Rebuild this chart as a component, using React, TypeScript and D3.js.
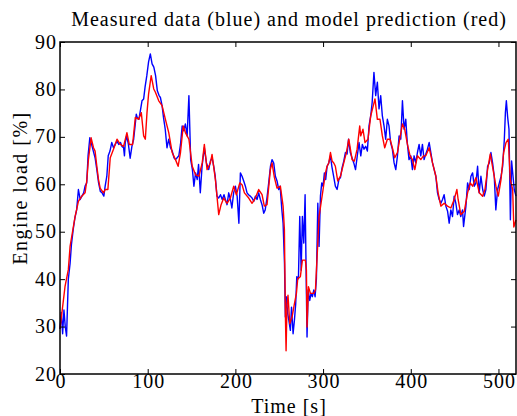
import React, { useEffect, useRef } from "react";
import * as d3 from "d3";

// measured engine load (blue)
const measuredTime = [
  0, 1.5, 3, 4.5, 6, 7.5, 9.5, 11.5, 13, 15, 17, 19, 21, 23, 25, 27, 28.6, 30.5, 32, 34, 36, 38, 40, 42, 44, 46, 48, 50,
  51.5, 53.4, 55, 57, 59, 61, 63, 65, 67, 69, 70.6, 72.5, 73.5, 74.4, 76, 78, 80, 82, 84, 86, 87, 88, 90, 92, 93.5, 95.4,
  97, 99, 101, 103, 105, 107, 109, 111, 113, 114.5, 116.4, 118, 120, 122, 124, 126, 128, 130, 131.7, 133.6, 135.5, 137.4,
  139.3, 141, 143, 145, 147, 149, 151, 152.7, 154.6, 156.5, 158, 160, 162, 164.6, 167, 169.6, 171.5, 173.4, 175.3, 177,
  179, 181, 183, 185, 187, 188.6, 190.5, 192.4, 194.3, 196, 198, 200, 202, 204, 205.7, 207.6, 209.5, 211.4, 213.3, 215,
  217, 219, 221, 222.8, 224.7, 226.6, 228.5, 230.4, 232.3, 234, 236, 238, 240, 241.8, 243.7, 245.6, 247.5, 249.4, 251,
  253, 254.4, 256, 257, 258, 259.7, 261, 262.7, 264, 265.8, 267.3, 268.8, 270, 271.9, 273.4, 275, 276.4, 278, 279.5, 281,
  281.7, 283, 284.8, 286.3, 287.8, 289.4, 290.9, 292.4, 294, 295.4, 297, 298.5, 300, 301.5, 303, 304.6, 306.5, 308.4, 310,
  312, 314, 316, 318, 319.8, 321.7, 323.6, 325.5, 327.4, 329, 331, 333, 335, 337, 339, 341, 343, 344.8, 346.7, 348.6,
  350.5, 352.4, 354.3, 356, 358, 360, 361.9, 363.8, 365.7, 367.6, 369.5, 371.4, 373.3, 375.2, 377, 379, 381, 382.9, 384.8,
  386.7, 388.6, 390.5, 392.4, 394.3, 396, 398, 400, 401.9, 403.8, 405.7, 407.6, 409.5, 411.4, 413.3, 415.2, 417, 419, 421,
  422.9, 424.8, 426.7, 428.6, 430.5, 432.4, 434.3, 436.2, 438, 440, 442, 443.8, 445.7, 447.6, 449.5, 451.4, 453.3, 455.2,
  457, 459, 460.2, 462.9, 464.8, 466.7, 468.6, 470.5, 472.4, 474.3, 476.2, 478, 480, 482, 483.8, 485.7, 487.6, 489.5,
  491.4, 493.3, 495.2, 497, 499, 501, 503, 504.8, 506.7, 507.9, 509, 510.5, 512, 513.6, 515, 516.6, 518, 520,
];
const measuredLoad = [
  29.5, 33, 28.5, 33.5, 30, 28, 40, 43.3, 47.2, 50.4, 52.9, 54.6, 58.9, 56.8, 57.5, 58.2, 59.6, 60.3, 66, 69.8, 68.4, 67,
  65.6, 63.1, 60.3, 58.5, 58.2, 57.5, 59.6, 61.7, 66, 67, 68.8, 67.7, 68.4, 69.1, 68.4, 68.8, 68, 67.7, 66, 68.8, 70.2,
  68.4, 65.5, 68, 69.5, 73, 74.8, 74.1, 73.7, 75.9, 77.6, 78, 80.5, 82.9, 85.8, 87.5, 85.4, 84.7, 82.9, 79.7, 78.7, 78.3,
  76.6, 74.1, 71.6, 67.7, 69.5, 67.7, 67, 65.6, 65.2, 65.6, 66, 68.4, 72.3, 71.3, 72.7, 70.2, 78.7, 65.2, 63.1, 59.6, 62.4,
  61, 64.2, 58.2, 63.8, 67.7, 64.5, 63.1, 64.9, 65.6, 63.8, 61.7, 57.5, 57.1, 57.8, 56.8, 57.8, 56.8, 55.7, 58.2, 56.8, 55,
  58.2, 59.6, 57.5, 51.8, 62.4, 61.7, 60.7, 59.6, 58.2, 57.8, 57.5, 57.1, 56.4, 57.5, 56.8, 58.2, 56.8, 55.7, 53.9, 54.6,
  57.1, 60.3, 63.8, 65.2, 64.5, 61.7, 60.7, 58.9, 59.6, 54.6, 51.8, 43.3, 32, 36.3, 32.7, 31.3, 29.2, 34.1, 28.5, 31.3,
  34.8, 40.5, 40.1, 53.2, 41.9, 53.2, 47.6, 57.8, 37, 27.8, 37.7, 35.5, 37, 36.3, 37.7, 36.3, 40.1, 56, 46.9, 57.5, 60.3,
  59.6, 62.4, 61, 63.8, 64.5, 66, 63.8, 61.7, 59.6, 58.9, 61, 61.4, 63.5, 64.9, 66.7, 66.4, 69.5, 66.7, 65.6, 64.5, 63.1,
  66, 68.8, 66, 68.4, 67.4, 68, 67, 72.3, 74.4, 77.3, 83.6, 78.7, 81.5, 75.9, 78.7, 74.4, 72.3, 69.5, 73.7, 72.3, 68.8,
  67.4, 64.5, 63.1, 66, 70.2, 69.5, 77.6, 71.6, 73.7, 68.8, 65.2, 66, 63.1, 66, 64.5, 66.7, 68.4, 66, 68.4, 65.2, 66.3,
  67.4, 68.8, 66.7, 64.5, 63.1, 61.7, 58.2, 56.8, 56, 56.8, 57.8, 55.4, 54.3, 51.8, 54.6, 53.2, 57.5, 56, 53.6, 54.6, 53.2,
  54.6, 51.1, 55.4, 60.3, 58.9, 61.7, 62.4, 59.6, 60.3, 63.8, 58.2, 61.7, 58.9, 57.5, 58.9, 63.8, 64.5, 66.7, 64.5, 61.7,
  54.6, 58.9, 60.3, 61.7, 63.8, 69.5, 75.1, 77.6, 74.1, 71.6, 52.5, 64.9, 61.7, 58.9, 57.5,
];

// model prediction (red)
const modelTime = [
  0, 5.7, 9.5, 11.5, 15.3, 17.2, 21, 24.8, 28.6, 30.5, 32.4, 35.5, 38.2, 40, 42, 43.9, 45.8, 49.6, 51.5, 54.6, 57.3, 61,
  65, 68.7, 72.5, 76.3, 79, 82.8, 85.9, 89.7, 92.7, 95.4, 97.3, 99.2, 101, 104, 106.9, 108.8, 112.6, 116.4, 120.2, 124,
  127.9, 131.7, 134.7, 137.4, 140.5, 143, 147, 150.8, 154.6, 158.4, 162.2, 164.6, 167.7, 171.5, 173.4, 177.2, 181, 183.7,
  186.7, 190.5, 194.3, 198.1, 201.1, 205, 207.6, 210.3, 215.2, 219, 222.8, 226.6, 230.4, 233, 236.1, 239.9, 241.8, 244.5,
  247.5, 251.3, 254.4, 255.9, 257, 257.8, 258.9, 260, 262, 264.6, 267.3, 269.6, 271.1, 274.1, 276.4, 279.8, 281, 281.7,
  283.3, 285.6, 289.4, 291.3, 293.2, 295.4, 297.7, 300, 302.7, 304.6, 306.5, 308.4, 310.3, 312.2, 314, 316.7, 319.8, 323.6,
  326.6, 329.3, 333.1, 335.7, 338.8, 341.8, 342.9, 345.5, 347.8, 351.2, 354.3, 357.3, 359.2, 361.9, 364.9, 367.6, 370.3,
  373.3, 376.4, 379, 381.7, 384.8, 387.4, 390.5, 393.1, 396.2, 399.2, 401.9, 404.6, 407.6, 411.4, 414.5, 417.1, 421, 424.8,
  428.6, 431.2, 434.3, 438.1, 441.9, 445.7, 449.5, 452.6, 454, 457.1, 461, 464.8, 467.8, 470.5, 474.3, 478.1, 481.9, 484.6,
  487.6, 490.7, 494.5, 497.1, 499.8, 502.9, 505.9, 508.6, 511.2, 513.5, 516.2, 517.5, 520,
];
const modelLoad = [
  29.5, 38.4, 42, 46.9, 51.1, 53.2, 56.4, 57.5, 58.2, 60.7, 65.2, 69.8, 67.7, 67, 63.8, 61, 59.2, 58.2, 58.9, 58.9, 65.6,
  67.4, 69.5, 68.4, 68, 70.9, 68.4, 68.4, 74.1, 73.7, 75.1, 70.2, 69.5, 75.1, 79, 82.9, 80.1, 79.4, 77.6, 76.6, 73.7, 70.9,
  66.7, 65.2, 63.8, 66.7, 72.3, 70.9, 69.5, 63.8, 62, 61.7, 64.5, 68.4, 63.1, 64.5, 66.3, 61, 53.6, 55.7, 57.1, 56, 57.1,
  59.6, 57.8, 60.3, 59.9, 58.2, 57.1, 56, 57.1, 58.9, 57.8, 55.4, 55.7, 63.1, 64.5, 61.4, 59.2, 59.6, 55.4, 50.4, 32.7,
  24.9, 34.8, 36.6, 30.6, 32, 34.8, 37, 40.1, 40.5, 44, 44, 41.9, 29.9, 38.4, 37, 37, 37.7, 44.7, 53.2, 56, 58.9, 62.4,
  63.8, 64.5, 66.7, 64.9, 64.5, 63.8, 60.7, 61.7, 64.5, 66.7, 69.5, 65.2, 64.9, 67.4, 72.3, 70.2, 71.6, 68.8, 69.5, 74.4,
  76.6, 78, 73.7, 73.7, 70.2, 67.7, 69.5, 69.5, 67.7, 65.6, 66.7, 69.5, 72.7, 71.6, 68.4, 66, 65.2, 63.1, 66, 65.2, 66, 66,
  67.7, 64.5, 61.7, 58.2, 55.4, 56, 55.4, 55, 56.8, 58.9, 56.8, 53.6, 54.3, 58.2, 60.3, 59.6, 61.4, 58.2, 57.5, 58.9, 63.1,
  66.4, 62.4, 59.6, 57.5, 61, 66.7, 68.8, 69.5, 61, 58.9, 51, 52.5,
];

const xTicks = [0, 100, 200, 300, 400, 500];
const yTicks = [20, 30, 40, 50, 60, 70, 80, 90];

const W = 517;
const H = 416;
const M = { left: 60, right: 1, top: 42, bottom: 42 };
const FONT = "'Liberation Serif', 'Times New Roman', serif";

export default function App() {
  const ref = useRef<SVGSVGElement>(null);

  useEffect(() => {
    const svg = d3.select(ref.current);
    svg.selectAll("*").remove();

    const x = d3.scaleLinear().domain([0, 520]).range([M.left, W - M.right]);
    const y = d3.scaleLinear().domain([20, 90]).range([H - M.bottom, M.top]);

    const measured = measuredTime.map((t, i) => [t, measuredLoad[i]] as [number, number]);
    const model = modelTime.map((t, i) => [t, modelLoad[i]] as [number, number]);

    const lineGen = d3
      .line<[number, number]>()
      .x((d) => x(d[0]))
      .y((d) => y(d[1]));

    svg.append("rect").attr("width", W).attr("height", H).attr("fill", "#fff");

    svg
      .append("path")
      .datum(measured)
      .attr("fill", "none")
      .attr("stroke", "#0000ff")
      .attr("stroke-width", 1.4)
      .attr("stroke-linejoin", "round")
      .attr("d", lineGen);

    svg
      .append("path")
      .datum(model)
      .attr("fill", "none")
      .attr("stroke", "#ff0000")
      .attr("stroke-width", 1.4)
      .attr("stroke-linejoin", "round")
      .attr("d", lineGen);

    // box around the axes
    const [x0, x1] = x.range();
    const [y0, y1] = y.range();
    svg
      .append("rect")
      .attr("x", x0)
      .attr("y", y1)
      .attr("width", x1 - x0)
      .attr("height", y0 - y1)
      .attr("fill", "none")
      .attr("stroke", "#000")
      .attr("stroke-width", 1.5);

    // inward ticks on all four sides
    const tickLen = 5;
    const bottomAxis = d3.axisBottom(x).tickValues(xTicks).tickSizeInner(-tickLen).tickSizeOuter(0).tickPadding(0);
    const gx = svg.append("g").attr("transform", `translate(0,${y0})`).call(bottomAxis);
    const topAxis = d3.axisTop(x).tickValues(xTicks).tickSizeInner(-tickLen).tickSizeOuter(0).tickFormat(() => "");
    const gxt = svg.append("g").attr("transform", `translate(0,${y1})`).call(topAxis);
    const leftAxis = d3.axisLeft(y).tickValues(yTicks).tickSizeInner(-tickLen).tickSizeOuter(0).tickPadding(0);
    const gy = svg.append("g").attr("transform", `translate(${x0},0)`).call(leftAxis);
    const rightAxis = d3.axisRight(y).tickValues(yTicks).tickSizeInner(-tickLen).tickSizeOuter(0).tickFormat(() => "");
    const gyr = svg.append("g").attr("transform", `translate(${x1},0)`).call(rightAxis);

    [gx, gxt, gy, gyr].forEach((g) => {
      g.select(".domain").remove();
      g.selectAll(".tick line").attr("stroke", "#000").attr("stroke-width", 1);
      g.selectAll(".tick text")
        .attr("fill", "#000")
        .style("font-family", FONT)
        .style("font-size", "20px")
        .style("letter-spacing", "1px");
    });
    gx.selectAll(".tick text").attr("y", 14).attr("dy", 0).attr("dx", "0.5px");
    gy.selectAll(".tick text").attr("x", -3).attr("dy", "0.3em");

    svg
      .append("text")
      .attr("x", 289)
      .attr("y", 26)
      .attr("text-anchor", "middle")
      .style("font-family", FONT)
      .style("font-size", "20px")
      .style("letter-spacing", "1px")
      .text("Measured data (blue) and model prediction (red)");

    svg
      .append("text")
      .attr("x", 289)
      .attr("y", 413)
      .attr("text-anchor", "middle")
      .style("font-family", FONT)
      .style("font-size", "20px")
      .style("letter-spacing", "1px")
      .text("Time [s]");

    svg
      .append("text")
      .attr("transform", `translate(27,188) rotate(-90)`)
      .attr("text-anchor", "middle")
      .style("font-family", FONT)
      .style("font-size", "20px")
      .style("letter-spacing", "1.5px")
      .text("Engine load [%]");
  }, []);

  return (
    <svg
      ref={ref}
      width={W}
      height={H}
      style={{ position: "absolute", left: 0, top: 0, display: "block" }}
    />
  );
}
